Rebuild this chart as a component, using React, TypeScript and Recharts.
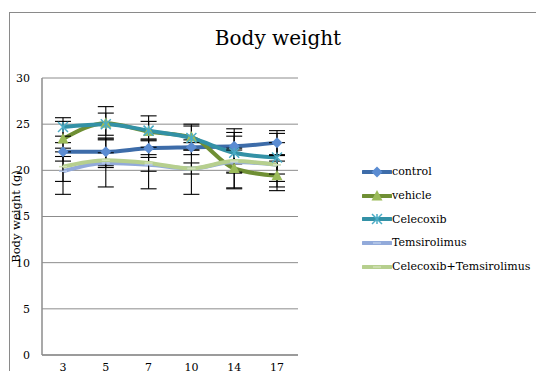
import { LineChart, Line, XAxis, YAxis, CartesianGrid, ErrorBar, Legend } from 'recharts';

const days = ['3', '5', '7', '10', '14', '17'];
const yTicks = [0, 5, 10, 15, 20, 25, 30];

const control = [22.0, 22.0, 22.4, 22.5, 22.6, 23.0];
const controlErr = [1.0, 1.5, 1.0, 0.8, 1.9, 1.3];
const vehicle = [23.4, 25.1, 24.2, 23.6, 20.2, 19.4];
const vehicleErr = [1.9, 1.8, 1.7, 1.4, 2.2, 1.6];
const celecoxib = [24.7, 25.0, 24.3, 23.5, 21.9, 21.4];
const celecoxibErr = [1.0, 1.2, 1.0, 1.3, 2.2, 2.6];
const temsirolimus = [19.9, 20.8, 20.6, 20.2, 20.9, 20.6];
const temsirolimusErr = [2.5, 2.6, 2.6, 2.8, 2.8, 2.4];
const combo = [20.4, 21.1, 20.8, 20.2, 21.0, 20.6];
const comboErr = [1.6, 0.8, 0.9, 0.6, 1.2, 1.0];

const data = days.map((d, i) => ({
  day: d,
  control: control[i], controlErr: controlErr[i],
  vehicle: vehicle[i], vehicleErr: vehicleErr[i],
  celecoxib: celecoxib[i], celecoxibErr: celecoxibErr[i],
  temsirolimus: temsirolimus[i], temsirolimusErr: temsirolimusErr[i],
  combo: combo[i], comboErr: comboErr[i],
}));

const FONT = '"DejaVu Serif", "Liberation Serif", serif';

type Marker = 'diamond' | 'triangle' | 'star' | 'dash' | 'none';

const series: { key: string; name: string; line: string; fill: string; marker: Marker }[] = [
  { key: 'control', name: 'control', line: '#3D6CA9', fill: '#5B8CD2', marker: 'diamond' },
  { key: 'vehicle', name: 'vehicle', line: '#6F8F34', fill: '#9BBB59', marker: 'triangle' },
  { key: 'celecoxib', name: 'Celecoxib', line: '#3391A6', fill: '#4BACC6', marker: 'star' },
  { key: 'temsirolimus', name: 'Temsirolimus', line: '#92AADA', fill: '#B9CBEA', marker: 'dash' },
  { key: 'combo', name: 'Celecoxib+Temsirolimus', line: '#B6CF8E', fill: '#D2E2B6', marker: 'dash' },
];

const drawMarker = (m: Marker, cx: number, cy: number, fill: string, key?: string) => {
  if (m === 'diamond') {
    return <path key={key} d={`M${cx},${cy - 5.5}L${cx + 5.5},${cy}L${cx},${cy + 5.5}L${cx - 5.5},${cy}Z`} fill={fill} />;
  }
  if (m === 'triangle') {
    return <path key={key} d={`M${cx},${cy - 6}L${cx + 5.5},${cy + 4.5}L${cx - 5.5},${cy + 4.5}Z`} fill={fill} />;
  }
  if (m === 'star') {
    return (
      <g key={key} stroke={fill} strokeWidth={1.5}>
        <line x1={cx - 5} y1={cy - 5} x2={cx + 5} y2={cy + 5} />
        <line x1={cx - 5} y1={cy + 5} x2={cx + 5} y2={cy - 5} />
        <line x1={cx} y1={cy - 5} x2={cx} y2={cy + 5} />
      </g>
    );
  }
  if (m === 'dash') {
    return <line key={key} x1={cx - 4} y1={cy} x2={cx + 4} y2={cy} stroke={fill} strokeWidth={1.5} />;
  }
  return <g key={key} />;
};

const LegendBox = () => (
  <div style={{ fontFamily: FONT, fontSize: 11, color: '#000' }}>
    {series.map((s) => (
      <div key={s.key} style={{ display: 'flex', alignItems: 'center', height: 23.7 }}>
        <svg width={30} height={12}>
          <line x1={1} y1={6} x2={29} y2={6} stroke={s.line} strokeWidth={4} strokeLinecap="round" />
          {drawMarker(s.marker, 15, 6, s.fill)}
        </svg>
        <span style={{ whiteSpace: 'nowrap' }}>{s.name}</span>
      </div>
    ))}
  </div>
);

export default function App() {
  return (
    <div style={{ position: 'fixed', left: 0, top: 0, width: 536, height: 371, background: '#fff', overflow: 'hidden' }}>
      <div style={{ position: 'absolute', left: 9, top: 12, width: 600, height: 420, border: '1.5px solid #8a8a8a' }} />
      <div style={{ position: 'absolute', left: 0, width: 556, top: 26, textAlign: 'center', fontFamily: FONT, fontSize: 20, color: '#000' }}>
        Body weight
      </div>
      <div style={{ position: 'absolute', left: 0, top: 0 }}>
        <LineChart width={536} height={371} data={data} margin={{ top: 78, right: 238, left: 12, bottom: 0 }}>
          <CartesianGrid vertical={false} stroke="#8c8c8c" strokeWidth={1} />
          <XAxis
            dataKey="day"
            height={16}
            padding={{ left: 21, right: 21 }}
            tickLine={false}
            tickSize={0}
            tickMargin={8}
            axisLine={{ stroke: '#8c8c8c', strokeWidth: 1.5 }}
            tick={{ fill: '#000', fontSize: 11, fontFamily: FONT }}
          />
          <YAxis
            domain={[0, 30]}
            ticks={yTicks}
            width={30}
            tickLine={false}
            tickSize={0}
            tickMargin={12}
            axisLine={{ stroke: '#8c8c8c', strokeWidth: 1.5 }}
            tick={{ fill: '#000', fontSize: 11, fontFamily: FONT }}
            label={{ value: 'Body weight (g)', angle: -90, position: 'insideLeft', offset: 4, style: { fontFamily: FONT, fontSize: 11.5, fill: '#000', textAnchor: 'middle' } }}
          />
          <Legend
            layout="vertical"
            align="center"
            verticalAlign="middle"
            content={() => <LegendBox />}
            wrapperStyle={{ left: 362, top: 160, width: 174 }}
          />
          {series.map((s) => (
            <Line
              key={s.key}
              dataKey={s.key}
              name={s.name}
              type="monotone"
              stroke={s.line}
              strokeWidth={4}
              isAnimationActive={false}
              dot={(p: any) => drawMarker(s.marker, p.cx, p.cy, s.fill, `${s.key}-${p.index}`)}
              activeDot={false}
            >
              <ErrorBar dataKey={`${s.key}Err`} stroke="#000" strokeWidth={1.1} width={8} direction="y" />
            </Line>
          ))}
        </LineChart>
      </div>
    </div>
  );
}
